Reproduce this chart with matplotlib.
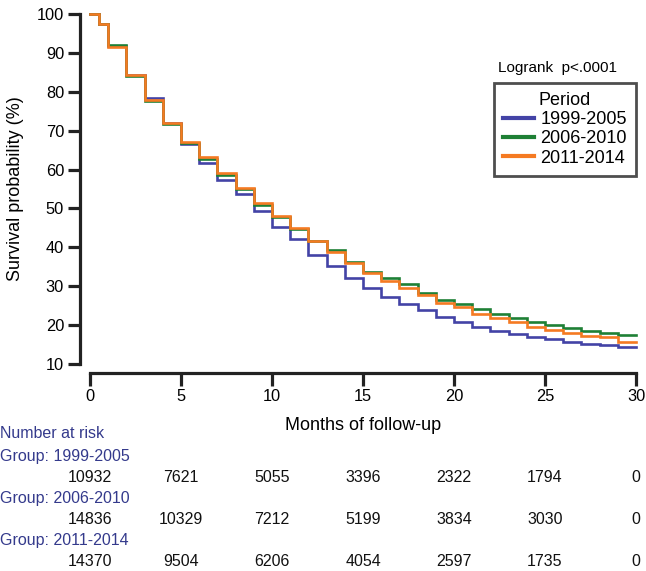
import matplotlib
matplotlib.use("Agg")
import matplotlib.pyplot as plt
from matplotlib.transforms import blended_transform_factory
from matplotlib.lines import Line2D

plt.rcParams['font.family'] = ['Liberation Sans', 'DejaVu Sans']

# ---- data ----
months = [0, 0.5, 1, 2, 3, 4, 5, 6, 7, 8, 9, 10, 11, 12, 13, 14, 15, 16, 17, 18, 19,
          20, 21, 22, 23, 24, 25, 26, 27, 28, 29, 30]
surv_1999_2005 = [100, 97.5, 91.8, 84.3, 78.3, 72.1, 66.6, 61.8, 57.2, 53.6, 49.3, 45.3,
                  42.1, 38.0, 35.2, 32.2, 29.5, 27.3, 25.5, 23.8, 22.2, 20.7, 19.6, 18.5,
                  17.7, 17.0, 16.5, 15.7, 15.1, 15.0, 14.3, 14.3]
surv_2006_2010 = [100, 97.5, 92.0, 84.0, 77.6, 71.8, 66.9, 62.6, 58.6, 54.9, 51.0, 47.8,
                  44.8, 41.7, 39.3, 36.3, 33.7, 32.0, 30.5, 28.3, 26.5, 25.4, 24.2, 22.9,
                  21.8, 20.9, 20.0, 19.2, 18.5, 18.1, 17.5, 17.5]
surv_2011_2014 = [100, 97.5, 91.6, 84.3, 78.0, 72.1, 67.0, 63.2, 59.2, 55.2, 51.3, 48.0,
                  44.9, 41.7, 38.7, 35.9, 33.3, 31.4, 29.6, 27.8, 25.8, 24.6, 22.9, 21.8,
                  20.7, 19.6, 18.7, 17.9, 17.2, 16.9, 15.7, 15.7]
periods = ['1999-2005', '2006-2010', '2011-2014']
colors = ['#4343A6', '#1E8035', '#F57A22']

risk_times = [0, 5, 10, 15, 20, 25, 30]
risk_1999_2005 = [10932, 7621, 5055, 3396, 2322, 1794, 0]
risk_2006_2010 = [14836, 10329, 7212, 5199, 3834, 3030, 0]
risk_2011_2014 = [14370, 9504, 6206, 4054, 2597, 1735, 0]

xticks = [0, 5, 10, 15, 20, 25, 30]
yticks = [10, 20, 30, 40, 50, 60, 70, 80, 90, 100]

W, H = 646, 571
fig = plt.figure(figsize=(W / 100, H / 100), dpi=100)
ax = fig.add_axes([90 / W, 1 - 364 / H, 546 / W, 350 / H])

series = [surv_1999_2005, surv_2006_2010, surv_2011_2014]
for s, c in zip(series, colors):
    ax.step(months, s, where='post', color=c, lw=1.9, clip_on=False,
            solid_joinstyle='miter')

ax.set_xlim(0, 30)
ax.set_ylim(10, 100)
ax.set_xticks(xticks)
ax.set_yticks(yticks)
for sp in ['top', 'right']:
    ax.spines[sp].set_visible(False)
ax.spines['left'].set_position(('outward', 7.2))
ax.spines['bottom'].set_position(('outward', 6.5))
ax.spines['left'].set_bounds(10, 100)
ax.spines['bottom'].set_bounds(0, 30)
for sp in ['left', 'bottom']:
    ax.spines[sp].set_linewidth(2.3)
    ax.spines[sp].set_color('#222222')
ax.tick_params(axis='both', length=9, width=2.3, color='#222222',
               labelsize=11.8, pad=2.5)
ax.set_xlabel('Months of follow-up', fontsize=13, labelpad=9)
ax.set_ylabel('Survival probability (%)', fontsize=13, labelpad=9)

# logrank text and legend
fig.text(558 / W, 1 - 68 / H, 'Logrank  p<.0001', ha='center', va='center', fontsize=11)
handles = [Line2D([0], [0], color=c, lw=3) for c in colors]
leg = ax.legend(handles, periods, title='Period', loc='upper right',
                bbox_to_anchor=(636 / W, 1 - 83 / H), bbox_transform=fig.transFigure,
                fontsize=13, title_fontsize=13, frameon=True, fancybox=False,
                edgecolor='#222222', handlelength=1.75, handletextpad=0.35,
                labelspacing=0.12, borderpad=0.5, borderaxespad=0)
leg.get_frame().set_linewidth(2.0)

# number at risk table
trans = blended_transform_factory(ax.transData, fig.transFigure)
tcol = '#343A8C'
fig.text(0, 1 - 434 / H, 'Number at risk', color=tcol, fontsize=11.5, va='center', ha='left')
rows = [(periods[0], risk_1999_2005), (periods[1], risk_2006_2010), (periods[2], risk_2011_2014)]
ys = [(456, 477), (498, 519), (540, 562)]
for (name, vals), (yg, yn) in zip(rows, ys):
    fig.text(0, 1 - yg / H, 'Group: ' + name, color=tcol, fontsize=11.5, va='center', ha='left')
    for t, v in zip(risk_times, vals):
        ax.text(t, 1 - yn / H, str(v), transform=trans, fontsize=11.5,
                ha='center', va='center', color='#111111')

fig.savefig('out.png', dpi=100)
